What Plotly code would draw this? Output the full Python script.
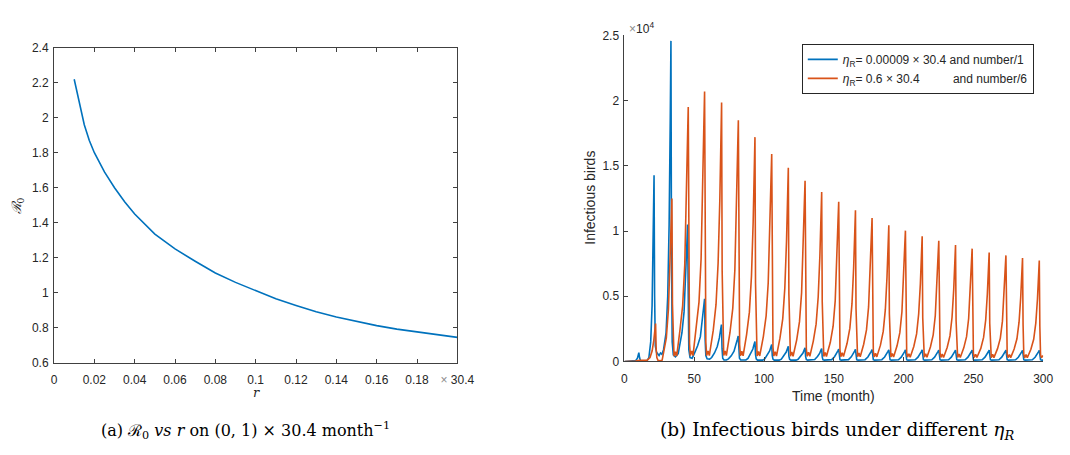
import plotly.graph_objects as go

# ---------------- (a) R0 vs r ----------------
r_vals = [0.01, 0.0125, 0.015, 0.0175, 0.02, 0.025, 0.03, 0.035, 0.04, 0.05,
          0.06, 0.07, 0.08, 0.09, 0.10, 0.11, 0.12, 0.13, 0.14, 0.15,
          0.16, 0.17, 0.18, 0.19, 0.20]
R0_vals = [2.22, 2.08, 1.96, 1.87, 1.80, 1.69, 1.60, 1.52, 1.45, 1.335,
           1.25, 1.18, 1.113, 1.059, 1.01, 0.965, 0.927, 0.891, 0.861, 0.836,
           0.812, 0.792, 0.776, 0.76, 0.745]
a_xticks = [0, 0.02, 0.04, 0.06, 0.08, 0.1, 0.12, 0.14, 0.16, 0.18, 0.2]
a_xticktext = ["0", "0.02", "0.04", "0.06", "0.08", "0.1", "0.12", "0.14", "0.16", "0.18",
               "<span style='color:#8c8c8c'>×</span> 30.4"]
a_yticks = [0.6, 0.8, 1.0, 1.2, 1.4, 1.6, 1.8, 2.0, 2.2, 2.4]
a_yticktext = ["0.6", "0.8", "1", "1.2", "1.4", "1.6", "1.8", "2", "2.2", "2.4"]

# ---------------- (b) Infectious birds ----------------
blue_t = [0, 5, 8, 9.3, 10.0, 10.3, 10.8, 11.5, 13, 16,
          17.5, 18.8, 19.8, 20.6, 21.2, 21.6, 22.1, 23.0, 24.8, 25.8, 26.8,
          28.0, 29.8, 31.0, 32.0, 32.8, 33.3,
          33.7, 34.2, 35.0, 36.5, 38.5, 39.2, 41.2, 42.7, 43.9, 44.7, 45.2,
          45.6, 46.1, 47.0, 48.5, 50.4, 52.4, 54.4, 55.9, 56.8, 57.4,
          57.8, 58.3, 59.2, 61.0, 62.5, 64.5, 66.5, 68.0, 68.9, 69.5,
          69.9, 70.4, 71.3, 73.0, 74.5, 76.5, 78.5, 80.0, 80.9, 81.5,
          81.9, 82.4, 83.3, 87.0, 88.5, 90.5, 92.0, 92.9, 93.5,
          93.9, 94.4, 95.3, 99.0, 100.5, 102.5, 104.0, 104.9, 105.5,
          105.9, 106.4, 107.3, 110.9, 112.4, 114.4, 115.9, 116.8, 117.4,
          117.8, 118.3, 119.2, 122.9, 124.4, 126.4, 127.9, 128.8, 129.4,
          129.8, 130.3, 131.2, 134.8, 136.3, 138.3, 139.8, 140.7, 141.3,
          141.7, 142.2, 143.1, 147.0, 148.5, 150.5, 152.0, 152.9, 153.5,
          153.9, 154.4, 155.3, 159.0, 160.5, 162.5, 164.0, 164.9, 165.5,
          165.9, 166.4, 167.3, 170.9, 172.4, 174.4, 175.9, 176.8, 177.4,
          177.8, 178.3, 179.2, 182.9, 184.4, 186.4, 187.9, 188.8, 189.4,
          189.8, 190.3, 191.2, 194.8, 196.3, 198.3, 199.8, 200.7, 201.3,
          201.7, 202.2, 203.1, 206.8, 208.3, 210.3, 211.8, 212.7, 213.3,
          213.7, 214.2, 215.1, 218.7, 220.2, 222.2, 223.7, 224.6, 225.2,
          225.6, 226.1, 227.0, 230.7, 232.2, 234.2, 235.7, 236.6, 237.2,
          237.6, 238.1, 239.0, 242.6, 244.1, 246.1, 247.6, 248.5, 249.1,
          249.5, 250.0, 250.9, 254.8, 256.3, 258.3, 259.8, 260.7, 261.3,
          261.7, 262.2, 263.1, 266.8, 268.3, 270.3, 271.8, 272.7, 273.3,
          273.7, 274.2, 275.1, 278.7, 280.2, 282.2, 283.7, 284.6, 285.2,
          285.6, 286.1, 287.0, 290.7, 292.2, 294.2, 295.7, 296.6, 297.2,
          297.6, 298.1, 299.0, 300]
blue_v = [0, 2, 60, 250, 550, 670, 300, 60, 10, 30,
          300, 1500, 4300, 9000, 14270, 5000, 1200, 700, 450, 650, 550,
          900, 2200, 5000, 10500, 18500, 24580,
          8000, 1500, 500, 350, 600, 1100, 2200, 3800, 6300, 9000, 10505,
          3700, 900, 300, 250, 700, 1200, 1900, 3300, 4300, 4806,
          1700, 450, 200, 180, 300, 650, 1150, 1800, 2450, 2825,
          1000, 250, 120, 110, 200, 430, 780, 1250, 1700, 1957,
          680, 250, 110, 110, 230, 580, 950, 1320, 1536,
          540, 200, 100, 100, 190, 490, 800, 1110, 1290,
          450, 180, 100, 100, 175, 440, 720, 1000, 1165,
          410, 170, 100, 100, 160, 400, 640, 890, 1040,
          360, 150, 100, 100, 150, 380, 610, 850, 990,
          350, 140, 100, 100, 140, 360, 580, 810, 940,
          330, 140, 100, 100, 140, 350, 570, 790, 920,
          320, 140, 100, 100, 135, 340, 560, 770, 900,
          320, 135, 100, 100, 135, 340, 550, 770, 890,
          310, 130, 100, 100, 130, 330, 550, 760, 880,
          310, 130, 100, 100, 130, 330, 550, 760, 880,
          310, 130, 100, 100, 130, 330, 540, 750, 870,
          300, 130, 100, 100, 130, 330, 540, 750, 870,
          300, 130, 100, 100, 130, 330, 530, 740, 860,
          300, 130, 100, 100, 130, 330, 530, 740, 860,
          300, 130, 100, 100, 130, 330, 530, 740, 860,
          300, 130, 100, 100, 130, 320, 530, 730, 850,
          300, 130, 100, 100, 130, 320, 530, 730, 850,
          300, 130, 100, 100]

orange_t = [0, 4, 8, 11, 14, 16.3, 18.3, 19.8, 21.0, 21.8, 22.3,
            22.7, 23.2, 24.0, 25.5, 27.0,
            28.0, 30.0, 31.5, 32.7, 33.5, 34.0,
            34.4, 34.9, 35.5, 36.5, 37.4, 39.7, 41.7, 43.2, 44.4, 45.2, 45.7,
            46.1, 46.6, 47.2, 48.2, 49.1, 51.4, 53.4, 54.9, 56.1, 56.9, 57.4,
            57.8, 58.3, 58.9, 59.9, 60.8, 63.6, 65.6, 67.1, 68.3, 69.1, 69.6,
            70.0, 70.5, 71.1, 72.1, 73.0, 75.6, 77.6, 79.1, 80.3, 81.1, 81.6,
            82.0, 82.5, 83.1, 84.1, 85.0, 87.5, 89.5, 91.0, 92.2, 93.0, 93.5,
            93.9, 94.4, 95.0, 96.0, 96.9, 99.5, 101.5, 103.0, 104.2, 105.0, 105.5,
            105.9, 106.4, 107.0, 108.0, 108.9, 111.4, 113.4, 114.9, 116.1, 116.9, 117.4,
            117.8, 118.3, 118.9, 119.9, 120.8, 123.4, 125.4, 126.9, 128.1, 128.9, 129.4,
            129.8, 130.3, 130.9, 131.9, 132.8, 135.3, 137.3, 138.8, 140.0, 140.8, 141.3,
            141.7, 142.2, 142.8, 143.8, 144.7, 147.5, 149.5, 151.0, 152.2, 153.0, 153.5,
            153.9, 154.4, 155.0, 156.0, 156.9, 159.5, 161.5, 163.0, 164.2, 165.0, 165.5,
            165.9, 166.4, 167.0, 168.0, 168.9, 171.4, 173.4, 174.9, 176.1, 176.9, 177.4,
            177.8, 178.3, 178.9, 179.9, 180.8, 183.4, 185.4, 186.9, 188.1, 188.9, 189.4,
            189.8, 190.3, 190.9, 191.9, 192.8, 195.3, 197.3, 198.8, 200.0, 200.8, 201.3,
            201.7, 202.2, 202.8, 203.8, 204.7, 207.3, 209.3, 210.8, 212.0, 212.8, 213.3,
            213.7, 214.2, 214.8, 215.8, 216.7, 219.2, 221.2, 222.7, 223.9, 224.7, 225.2,
            225.6, 226.1, 226.7, 227.7, 228.6, 231.2, 233.2, 234.7, 235.9, 236.7, 237.2,
            237.6, 238.1, 238.7, 239.7, 240.6, 243.1, 245.1, 246.6, 247.8, 248.6, 249.1,
            249.5, 250.0, 250.6, 251.6, 252.5, 255.3, 257.3, 258.8, 260.0, 260.8, 261.3,
            261.7, 262.2, 262.8, 263.8, 264.7, 267.3, 269.3, 270.8, 272.0, 272.8, 273.3,
            273.7, 274.2, 274.8, 275.8, 276.7, 279.2, 281.2, 282.7, 283.9, 284.7, 285.2,
            285.6, 286.1, 286.7, 287.7, 288.6, 291.2, 293.2, 294.7, 295.9, 296.7, 297.2,
            297.6, 298.1, 298.7, 299.5, 300]
orange_v = [0, 5, 30, 80, 60, 100, 300, 800, 1600, 2500, 2900,
            1000, 300, 80, 50, 100,
            600, 1800, 4000, 7500, 11000, 12500,
            4400, 900, 400, 750, 400, 2340, 4290, 7410, 12090, 17160, 19500,
            6830, 1370, 450, 800, 450, 2480, 4550, 7870, 12830, 18220, 20700,
            7250, 1450, 450, 800, 450, 2380, 4370, 7540, 12310, 17470, 19850,
            6950, 1390, 450, 800, 450, 2220, 4070, 7030, 11470, 16280, 18500,
            6480, 1300, 430, 780, 430, 2060, 3780, 6540, 10660, 15140, 17200,
            6020, 1200, 420, 760, 420, 1910, 3500, 6040, 9860, 13990, 15900,
            5570, 1110, 410, 740, 410, 1780, 3270, 5640, 9210, 13070, 14850,
            5200, 1040, 400, 720, 400, 1660, 3050, 5260, 8590, 12190, 13850,
            4850, 970, 390, 700, 390, 1560, 2860, 4940, 8060, 11440, 13000,
            4550, 910, 380, 680, 380, 1470, 2700, 4660, 7600, 10780, 12250,
            4290, 860, 370, 660, 370, 1390, 2550, 4410, 7190, 10210, 11600,
            4060, 810, 360, 640, 360, 1320, 2420, 4180, 6820, 9680, 11000,
            3850, 770, 350, 620, 350, 1250, 2300, 3970, 6480, 9200, 10450,
            3660, 730, 340, 600, 340, 1200, 2210, 3810, 6220, 8830, 10030,
            3510, 700, 330, 590, 330, 1150, 2110, 3650, 5950, 8450, 9600,
            3360, 670, 320, 580, 320, 1110, 2040, 3520, 5740, 8140, 9250,
            3240, 650, 310, 570, 310, 1070, 1960, 3390, 5530, 7850, 8920,
            3120, 620, 300, 560, 300, 1040, 1900, 3290, 5360, 7610, 8650,
            3030, 610, 300, 550, 300, 1000, 1840, 3170, 5180, 7350, 8350,
            2920, 580, 290, 540, 290, 980, 1790, 3090, 5040, 7150, 8130,
            2850, 570, 290, 530, 290, 950, 1740, 3010, 4920, 6980, 7930,
            2780, 560, 280, 520, 280, 930, 1700, 2940, 4790, 6800, 7730,
            2710, 540, 280, 400, 450]

b_xticks = [0, 50, 100, 150, 200, 250, 300]
b_yticks = [0, 5000, 10000, 15000, 20000, 25000]
b_yticktext = ["0", "0.5", "1", "1.5", "2", "2.5"]

series_names = [
    "<i>η</i><sub>R</sub>= 0.00009 × 30.4 and number/1",
    "<i>η</i><sub>R</sub>= 0.6 × 30.4\u00a0\u00a0\u00a0\u00a0\u00a0\u00a0\u00a0\u00a0\u00a0\u00a0and number/6",
]

BLUE = "#0072BD"
ORANGE = "#D95319"
AXC = "#404040"
SANS = "Liberation Sans, Arial, sans-serif"
SERIF = "DejaVu Serif, serif"
TICKFONT = dict(family=SANS, size=12, color="#262626")

W, H = 1070, 455
def px(x):
    return x / W
def py(y):
    return 1 - y / H

fig = go.Figure()

fig.add_trace(go.Scatter(x=r_vals, y=R0_vals, mode="lines",
                         line=dict(color=BLUE, width=1.6),
                         xaxis="x", yaxis="y", showlegend=False))

fig.add_trace(go.Scatter(x=blue_t, y=blue_v, mode="lines", name=series_names[0],
                         line=dict(color=BLUE, width=1.6),
                         xaxis="x2", yaxis="y2"))
fig.add_trace(go.Scatter(x=orange_t, y=orange_v, mode="lines", name=series_names[1],
                         line=dict(color=ORANGE, width=1.6),
                         xaxis="x2", yaxis="y2"))

common = dict(showline=True, linecolor=AXC, linewidth=1, ticks="inside",
              ticklen=4, tickcolor=AXC, showgrid=False, zeroline=False,
              tickfont=TICKFONT)

fig.update_layout(
    width=W, height=H,
    margin=dict(l=0, r=0, t=0, b=0),
    paper_bgcolor="white", plot_bgcolor="white",
    xaxis=dict(domain=[px(52), px(463)], range=[0, 0.2], tickvals=a_xticks,
               ticktext=a_xticktext, mirror="ticks", anchor="y",
               ticklabelstandoff=6, **common),
    yaxis=dict(domain=[py(367), py(42)], range=[0.6, 2.4], tickvals=a_yticks,
               ticktext=a_yticktext, mirror="ticks", anchor="x",
               ticklabelstandoff=2, **common),
    xaxis2=dict(domain=[px(633.3), px(1060)], range=[0, 300], tickvals=b_xticks,
                anchor="y2", ticklabelstandoff=6, **common),
    yaxis2=dict(domain=[py(365.7), py(29.3)], range=[0, 25000], tickvals=b_yticks,
                ticktext=b_yticktext, anchor="x2", ticklabelstandoff=2, **common),
    legend=dict(x=px(814), y=py(38), xanchor="left", yanchor="top",
                bgcolor="white", bordercolor="#262626", borderwidth=1,
                font=dict(family=SANS, size=12, color="#262626"),
                tracegroupgap=0, itemwidth=30),
    font=dict(family=SANS),
)

annos = [
    # axis labels
    dict(x=px(258), y=py(398), text="<i>r</i>",
         font=dict(family=SERIF, size=13, color="#262626")),
    dict(x=px(15), y=py(205), text="<i>ℛ</i><sub>0</sub>", textangle=-90,
         font=dict(family=SERIF, size=13, color="#262626")),
    dict(x=px(846), y=py(401), text="Time (month)",
         font=dict(family=SANS, size=14, color="#262626")),
    dict(x=px(598), y=py(197), text="Infectious birds", textangle=-90,
         font=dict(family=SANS, size=14, color="#262626")),
    dict(x=px(636), y=py(22), xanchor="left",
         text="<span style='color:#8c8c8c'>×</span>10<sup>4</sup>",
         font=dict(family=SANS, size=12, color="#262626")),
    # captions
    dict(x=px(247), y=py(437), text="(a) ℛ<sub>0</sub> <i>vs r</i> on (0, 1) × 30.4 month<sup>−1</sup>",
         font=dict(family=SERIF, size=16, color="black")),
    dict(x=px(850), y=py(437), text="(b) Infectious birds under different <i>η</i><sub><i>R</i></sub>",
         font=dict(family=SERIF, size=18.5, color="black")),
]
for a in annos:
    a.setdefault("xref", "paper")
    a.setdefault("yref", "paper")
    a.setdefault("xanchor", "center")
    a.setdefault("yanchor", "middle")
    a.setdefault("showarrow", False)
fig.update_layout(annotations=annos)

fig.write_html("out.html")
